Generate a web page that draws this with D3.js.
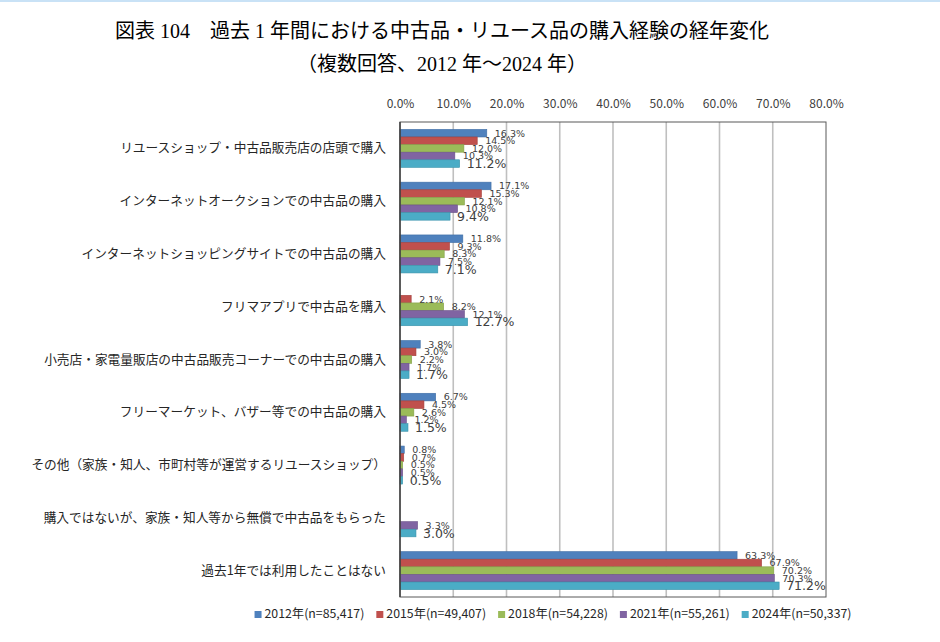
<!DOCTYPE html>
<html>
<head>
<meta charset="utf-8">
<script src="https://cdn.jsdelivr.net/npm/d3@7"></script>
<style>
  body { margin: 0; background: #fff; }
  svg { display: block; }
</style>
</head>
<body>
<div id="chart"></div>
<script>
// Chart data
const categories = [
    'リユースショップ・中古品販売店の店頭で購入',
    'インターネットオークションでの中古品の購入',
    'インターネットショッピングサイトでの中古品の購入',
    'フリマアプリで中古品を購入',
    '小売店・家電量販店の中古品販売コーナーでの中古品の購入',
    'フリーマーケット、バザー等での中古品の購入',
    'その他（家族・知人、市町村等が運営するリユースショップ）',
    '購入ではないが、家族・知人等から無償で中古品をもらった',
    '過去1年では利用したことはない'
];
const seriesNames = ['2012年(n=85,417)', '2015年(n=49,407)', '2018年(n=54,228)', '2021年(n=55,261)', '2024年(n=50,337)'];
const values2012 = [16.3, 17.1, 11.8, null, 3.8, 6.7, 0.8, null, 63.3];
const values2015 = [14.5, 15.3, 9.3, 2.1, 3.0, 4.5, 0.7, null, 67.9];
const values2018 = [12.0, 12.1, 8.3, 8.2, 2.2, 2.6, 0.5, null, 70.2];
const values2021 = [10.3, 10.8, 7.5, 12.1, 1.7, 1.2, 0.5, 3.3, 70.3];
const values2024 = [11.2, 9.4, 7.1, 12.7, 1.7, 1.5, 0.5, 3.0, 71.2];
const xTicks = [0, 10, 20, 30, 40, 50, 60, 70, 80];

const seriesValues = [values2012, values2015, values2018, values2021, values2024];
const colors = ['#4F81BD', '#C0504D', '#9BBB59', '#8064A2', '#4BACC6'];
const strokes = ['#3f6ea5', '#a5403d', '#84a148', '#6a5289', '#3a93ab'];

const width = 940, height = 642;
const margin = { top: 122, right: 114, bottom: 45, left: 400 };
const plotW = width - margin.left - margin.right;
const plotH = height - margin.top - margin.bottom;

const jpFont = '"Noto Sans CJK JP", "Noto Sans", sans-serif';
const titleFont = '"Liberation Serif", "Noto Sans CJK JP", serif';

const svg = d3.select('#chart').append('svg')
    .attr('width', width)
    .attr('height', height);

// thin light-blue rule along the top edge
svg.append('rect')
    .attr('x', 0).attr('y', 0)
    .attr('width', width).attr('height', 2)
    .attr('fill', '#c9e2f6');

// Title
svg.append('text')
    .attr('x', 442).attr('y', 38)
    .attr('text-anchor', 'middle')
    .style('font-family', titleFont)
    .style('font-size', '20px')
    .style('fill', '#000')
    .text('図表 104　過去 1 年間における中古品・リユース品の購入経験の経年変化');

svg.append('text')
    .attr('x', 442).attr('y', 71)
    .attr('text-anchor', 'middle')
    .style('font-family', titleFont)
    .style('font-size', '20px')
    .style('fill', '#000')
    .text('（複数回答、2012 年～2024 年）');

const g = svg.append('g')
    .attr('transform', `translate(${margin.left},${margin.top})`);

// Scales
const x = d3.scaleLinear().domain([0, 80]).range([0, plotW]);
const y = d3.scaleBand().domain(categories).range([0, plotH]).paddingInner(0.28).paddingOuter(0.14);
const ySub = d3.scaleBand().domain(d3.range(seriesNames.length)).range([0, y.bandwidth()]);

// Gridlines
g.selectAll('.grid')
    .data(xTicks.slice(1, -1))
    .enter()
    .append('line')
    .attr('class', 'grid')
    .attr('x1', d => x(d)).attr('x2', d => x(d))
    .attr('y1', 0).attr('y2', plotH)
    .attr('stroke', '#bfbfbf')
    .attr('stroke-width', 1.6);

// Top axis (tick labels only)
const xAxis = g.append('g')
    .call(d3.axisTop(x).tickValues(xTicks).tickSize(0).tickPadding(14).tickFormat(d => d.toFixed(1) + '%'));
xAxis.select('.domain').remove();
xAxis.selectAll('text')
    .style('font-family', jpFont)
    .style('font-size', '12px')
    .style('fill', '#404040');

// Category labels
const yAxis = g.append('g')
    .call(d3.axisLeft(y).tickSize(0).tickPadding(14));
yAxis.select('.domain').remove();
yAxis.selectAll('text')
    .style('font-family', jpFont)
    .style('font-size', '12.7px')
    .style('fill', '#262626');

// Bars
const rows = [];
categories.forEach((c, ci) => {
    seriesValues.forEach((vals, si) => {
        if (vals[ci] != null) rows.push({ cat: c, s: si, v: vals[ci] });
    });
});

g.selectAll('.bar')
    .data(rows)
    .enter()
    .append('rect')
    .attr('class', 'bar')
    .attr('x', 0)
    .attr('y', d => y(d.cat) + ySub(d.s))
    .attr('width', d => x(d.v))
    .attr('height', ySub.bandwidth())
    .attr('fill', d => colors[d.s])
    .attr('stroke', d => strokes[d.s])
    .attr('stroke-width', 0.6);

// Value labels (they overlap in the original too)
g.selectAll('.val')
    .data(rows)
    .enter()
    .append('text')
    .attr('class', 'val')
    .attr('x', d => x(d.v) + (d.s === 4 ? 7 : 8))
    .attr('y', d => y(d.cat) + ySub(d.s) + ySub.bandwidth() / 2)
    .attr('dy', '0.36em')
    .style('font-family', '"DejaVu Sans", sans-serif')
    .style('font-size', d => d.s === 4 ? '12.5px' : '9.5px')
    .style('fill', '#404040')
    .text(d => d.v.toFixed(1) + '%');

// Plot border
g.append('rect')
    .attr('x', 0).attr('y', 0)
    .attr('width', plotW).attr('height', plotH)
    .attr('fill', 'none')
    .attr('stroke', '#595959')
    .attr('stroke-width', 1);

g.append('line')
    .attr('x1', 0).attr('x2', 0)
    .attr('y1', 0).attr('y2', plotH)
    .attr('stroke', '#404040')
    .attr('stroke-width', 1.5);

// Legend
const legend = svg.append('g').attr('class', 'legend');
const items = legend.selectAll('.item')
    .data(seriesNames)
    .enter()
    .append('g')
    .attr('class', 'item');

items.append('rect')
    .attr('width', 7).attr('height', 7)
    .attr('y', -7)
    .attr('fill', (d, i) => colors[i]);

items.append('text')
    .attr('x', 10)
    .style('font-family', jpFont)
    .style('font-size', '12.3px')
    .style('fill', '#262626')
    .text(d => d);

let offsets = [], cur = 0;
items.each(function() {
    const w = this.getBBox().width;
    offsets.push(cur);
    cur += w + 12;
});
const totalW = cur - 12;
const legendCenter = 553;
items.attr('transform', (d, i) => `translate(${legendCenter - totalW / 2 + offsets[i]}, 618)`);
</script>
</body>
</html>
